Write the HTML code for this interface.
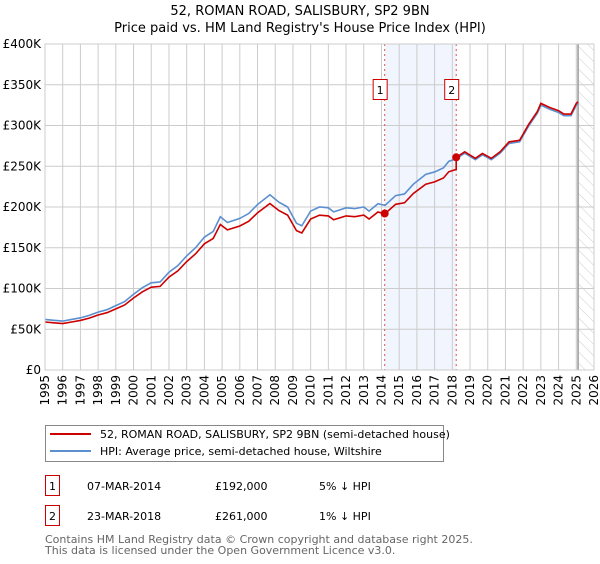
<!DOCTYPE html>
<html><head><meta charset="utf-8"><style>
body{margin:0;background:#fff;width:600px;height:560px;overflow:hidden;font-family:"DejaVu Sans","Liberation Sans",sans-serif;}
svg text{font-family:"DejaVu Sans","Liberation Sans",sans-serif;}
</style></head><body>
<svg id="chart" width="600" height="560" xmlns="http://www.w3.org/2000/svg">
<defs><pattern id="hatch" width="8" height="8" patternUnits="userSpaceOnUse" patternTransform="rotate(-45)"><line x1="0" y1="0" x2="0" y2="8" stroke="#ccc" stroke-width="1"/></pattern></defs>
<text x="300" y="15" font-size="13" text-anchor="middle">52, ROMAN ROAD, SALISBURY, SP2 9BN</text>
<text x="300" y="32" font-size="13" text-anchor="middle">Price paid vs. HM Land Registry's House Price Index (HPI)</text>
<g id="grid"></g><g id="marks"></g><g id="axes"></g>
<g>
<rect x="45.5" y="425.5" width="398" height="36" fill="#fff" stroke="#888"/>
<line x1="50" y1="434" x2="91" y2="434" stroke="#cc0000" stroke-width="2"/>
<text x="100" y="438" font-size="11">52, ROMAN ROAD, SALISBURY, SP2 9BN (semi-detached house)</text>
<line x1="50" y1="451" x2="91" y2="451" stroke="#5b8fd0" stroke-width="2"/>
<text x="100" y="455" font-size="11">HPI: Average price, semi-detached house, Wiltshire</text>
</g>
<g font-size="11">
<rect x="45.5" y="475.5" width="14" height="20" fill="none" stroke="#cc0000"/><text x="52.5" y="490" text-anchor="middle">1</text>
<text x="87" y="490">07-MAR-2014</text><text x="215" y="490">£192,000</text><text x="319" y="490">5% ↓ HPI</text>
<rect x="45.5" y="505.5" width="14" height="20" fill="none" stroke="#cc0000"/><text x="52.5" y="520" text-anchor="middle">2</text>
<text x="87" y="520">23-MAR-2018</text><text x="215" y="520">£261,000</text><text x="319" y="520">1% ↓ HPI</text>
</g>
<text x="45" y="543" font-size="11" fill="#666">Contains HM Land Registry data © Crown copyright and database right 2025.</text>
<text x="45" y="554" font-size="11" fill="#666">This data is licensed under the Open Government Licence v3.0.</text>
</svg>
<script>
const hpiDates=[1995.0,1995.5,1996.0,1996.5,1997.0,1997.5,1998.0,1998.5,1999.0,1999.5,2000.0,2000.5,2001.0,2001.5,2002.0,2002.5,2003.0,2003.5,2004.0,2004.5,2004.9,2005.3,2006.0,2006.5,2007.0,2007.7,2008.2,2008.7,2009.2,2009.5,2010.0,2010.5,2011.0,2011.3,2012.0,2012.5,2013.0,2013.3,2013.8,2014.2,2014.8,2015.3,2015.8,2016.5,2017.0,2017.5,2017.8,2018.2,2018.7,2019.3,2019.7,2020.2,2020.7,2021.2,2021.8,2022.3,2022.8,2023.0,2023.5,2024.0,2024.3,2024.7,2025.0,2025.1];
const hpiValues=[62,61,60,62,64,67,71,74,79,84,93,101,107,108,120,128,140,150,163,170,188,181,186,192,203,215,206,200,180,177,195,200,199,194,199,198,200,195,204,202,214,216,228,240,243,248,256,259,266,258,264,258,266,278,280,299,315,325,320,316,312,312,325,327];
const saleDates=[2014.18,2018.22];
const saleValues=[192,261];
const saleLabels=["1","2"];
const yTicks=[0,50,100,150,200,250,300,350,400];
const yTickLabels=["£0","£50K","£100K","£150K","£200K","£250K","£300K","£350K","£400K"];
const xYears=[1995,1996,1997,1998,1999,2000,2001,2002,2003,2004,2005,2006,2007,2008,2009,2010,2011,2012,2013,2014,2015,2016,2017,2018,2019,2020,2021,2022,2023,2024,2025,2026];
const dataEnd=2025.1;

const L=45,R=594,T=44,B=370;
const xs=d=>L+(d-1995)*(R-L)/31;
const ys=v=>B-v*(B-T)/400;
const NS="http://www.w3.org/2000/svg";
function mk(tag,attrs,parent){const e=document.createElementNS(NS,tag);for(const k in attrs)e.setAttribute(k,attrs[k]);parent.appendChild(e);return e;}
const grid=document.getElementById('grid'),marks=document.getElementById('marks'),axes=document.getElementById('axes');
function hpiAt(d){for(let i=0;i<hpiDates.length-1;i++){if(d<=hpiDates[i+1]){const t=(d-hpiDates[i])/(hpiDates[i+1]-hpiDates[i]);return hpiValues[i]+t*(hpiValues[i+1]-hpiValues[i]);}}return hpiValues[hpiValues.length-1];}

const sh=mk('rect',{x:xs(saleDates[0]),y:T,width:xs(saleDates[1])-xs(saleDates[0]),height:B-T,fill:'#eef3fc',opacity:0.8},grid);


const hz=mk('rect',{x:xs(dataEnd),y:T,width:R-xs(dataEnd),height:B-T,fill:'url(#hatch)'},grid);


xYears.forEach(y=>{const l=mk('line',{x1:xs(y),x2:xs(y),y1:T,y2:B,stroke:'#ccc'},grid);

});
yTicks.forEach((v,i)=>{const l=mk('line',{x1:L,x2:R,y1:ys(v),y2:ys(v),stroke:'#ccc'},grid);


const t=mk('text',{x:L-4,y:ys(v)+4,'font-size':12,'text-anchor':'end'},axes);t.textContent=yTickLabels[i];

});
xYears.forEach(y=>{const t=mk('text',{transform:`translate(${xs(y)+4},${B+5}) rotate(-90)`,'font-size':12,'text-anchor':'end'},axes);t.textContent=y;

});
const el=mk('line',{x1:xs(dataEnd),x2:xs(dataEnd),y1:T,y2:B,stroke:'#999','stroke-width':1.5},grid);


saleDates.forEach((d,i)=>{const l=mk('line',{x1:xs(d),x2:xs(d),y1:T,y2:B,stroke:'#e05050','stroke-dasharray':'2,3'},grid);


const r=mk('rect',{x:xs(d)-11.5,y:79.5,width:14,height:20,fill:'#fff',stroke:'#cc0000'},axes);


const t=mk('text',{x:xs(d)-4.5,y:94,'font-size':11,'text-anchor':'middle'},axes);t.textContent=saleLabels[i];

});

const hp=mk('polyline',{points:hpiDates.map((d,i)=>xs(d)+','+ys(hpiValues[i])).join(' '),fill:'none',stroke:'#5b8fd0','stroke-width':1.6},marks);


function ratioAt(d){let k=0;if(d>=saleDates[1])k=1;return saleValues[k]/hpiAt(saleDates[k]);}
let pts=[];
const dates=hpiDates.slice();saleDates.forEach(d=>{dates.push(d-0.001,d);});dates.sort((a,b)=>a-b);
dates.forEach(d=>{pts.push(xs(d)+','+ys(hpiAt(d)*ratioAt(d)));});
const pl=mk('polyline',{points:pts.join(' '),fill:'none',stroke:'#cc0000','stroke-width':1.6},marks);


saleDates.forEach((d,i)=>{const c=mk('circle',{cx:xs(d),cy:ys(saleValues[i]),r:4,fill:'#cc0000'},marks);

});
const fr=mk('rect',{x:L,y:T,width:R-L,height:B-T,fill:'none',stroke:'#ccc'},axes);


</script>
</body></html>
